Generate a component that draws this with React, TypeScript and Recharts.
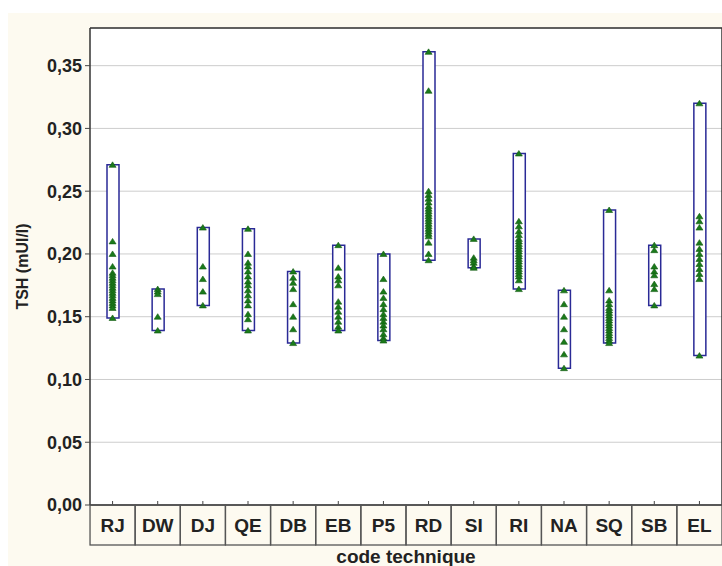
import React from 'react';
import { ComposedChart, Bar, Scatter, XAxis, YAxis, CartesianGrid } from 'recharts';

const codes = ['RJ', 'DW', 'DJ', 'QE', 'DB', 'EB', 'P5', 'RD', 'SI', 'RI', 'NA', 'SQ', 'SB', 'EL'];

const RJ = [0.271, 0.21, 0.2, 0.19, 0.185, 0.183, 0.181, 0.179, 0.177, 0.175, 0.173, 0.171, 0.169, 0.167, 0.165, 0.163, 0.161, 0.159, 0.157, 0.149];
const DW = [0.172, 0.17, 0.168, 0.15, 0.139];
const DJ = [0.221, 0.19, 0.18, 0.17, 0.159];
const QE = [0.22, 0.2, 0.193, 0.19, 0.186, 0.182, 0.178, 0.175, 0.171, 0.167, 0.163, 0.159, 0.152, 0.148, 0.139];
const DB = [0.186, 0.181, 0.177, 0.172, 0.16, 0.15, 0.14, 0.129];
const EB = [0.207, 0.189, 0.182, 0.179, 0.175, 0.162, 0.158, 0.154, 0.15, 0.146, 0.142, 0.139];
const P5 = [0.2, 0.18, 0.17, 0.165, 0.16, 0.156, 0.152, 0.149, 0.146, 0.143, 0.14, 0.136, 0.133, 0.131];
const RD = [0.361, 0.33, 0.25, 0.247, 0.244, 0.241, 0.238, 0.236, 0.234, 0.232, 0.23, 0.228, 0.226, 0.224, 0.222, 0.22, 0.218, 0.216, 0.214, 0.209, 0.2, 0.195];
const SI = [0.212, 0.197, 0.195, 0.193, 0.19, 0.189];
const RI = [0.28, 0.226, 0.222, 0.218, 0.215, 0.212, 0.21, 0.208, 0.206, 0.204, 0.202, 0.2, 0.198, 0.196, 0.194, 0.192, 0.19, 0.188, 0.186, 0.184, 0.182, 0.179, 0.172];
const NA = [0.171, 0.16, 0.15, 0.14, 0.13, 0.12, 0.109];
const SQ = [0.235, 0.171, 0.163, 0.16, 0.157, 0.155, 0.153, 0.151, 0.149, 0.147, 0.145, 0.143, 0.141, 0.139, 0.137, 0.135, 0.133, 0.131, 0.129];
const SB = [0.207, 0.203, 0.19, 0.186, 0.183, 0.176, 0.172, 0.159];
const EL = [0.32, 0.23, 0.226, 0.221, 0.209, 0.204, 0.2, 0.196, 0.192, 0.188, 0.184, 0.18, 0.119];

const pointsByCode = [RJ, DW, DJ, QE, DB, EB, P5, RD, SI, RI, NA, SQ, SB, EL];
const yTicks = [0, 0.05, 0.1, 0.15, 0.2, 0.25, 0.3, 0.35];

const rangeData = codes.map((code, i) => ({
  code,
  range: [Math.min(...pointsByCode[i]), Math.max(...pointsByCode[i])],
}));
const scatterData = codes.flatMap((code, i) => pointsByCode[i].map((v) => ({ code, v })));

const CHART_W = 714;
const CHART_H = 553;
const LEFT_W = 82;
const RIGHT_W = 1;
const BAND = (CHART_W - LEFT_W - RIGHT_W) / codes.length;
const FONT = '"Liberation Sans", Arial, sans-serif';

const CategoryTick = (props: any) => {
  const { x, y, payload } = props;
  return (
    <g>
      <line x1={x} y1={y} x2={x} y2={y - 4} stroke="#444" strokeWidth={1} />
      <rect x={x - BAND / 2} y={y} width={BAND} height={40} fill="none" stroke="#555" strokeWidth={1.3} />
      <text x={x} y={y + 27} textAnchor="middle" fontSize={19} fontWeight="bold" fill="#222" fontFamily={FONT}>
        {payload.value}
      </text>
    </g>
  );
};

const Triangle = (props: any) => {
  const { cx, cy } = props;
  if (cx == null || cy == null) return null;
  return (
    <polygon
      points={`${cx - 3.5},${cy + 2.5} ${cx + 3.5},${cy + 2.5} ${cx},${cy - 3}`}
      fill="#1a7a1a"
      stroke="#125a12"
      strokeWidth={0.6}
    />
  );
};

const YTitle = (props: any) => {
  const vb = props.viewBox || {};
  const cy = (vb.y || 0) + (vb.height || 0) / 2;
  const cx = 14;
  return (
    <text
      x={cx}
      y={cy}
      transform={`rotate(-90, ${cx}, ${cy})`}
      textAnchor="middle"
      dominantBaseline="central"
      fontSize={16}
      fontWeight="bold"
      fill="#222"
      fontFamily={FONT}
    >
      TSH (mUI/l)
    </text>
  );
};

const fmt = (v: number) => v.toFixed(2).replace('.', ',');

export default function App() {
  return (
    <div style={{ position: 'absolute', left: 8, top: 13, width: CHART_W, height: CHART_H, background: '#fdfaf0' }}>
      <ComposedChart
        width={CHART_W}
        height={CHART_H}
        data={rangeData}
        margin={{ top: 15, right: 0, bottom: 0, left: 0 }}
        style={{ fontFamily: FONT }}
      >
        <CartesianGrid horizontal vertical={false} stroke="#cdcdcd" fill="#ffffff" />
        <XAxis
          dataKey="code"
          type="category"
          allowDuplicatedCategory={false}
          height={61}
          axisLine={{ stroke: '#333', strokeWidth: 1.5 }}
          tickLine={false}
          tickSize={0}
          tickMargin={0}
          interval={0}
          tick={<CategoryTick />}
          label={{ value: 'code technique', position: 'insideBottom', offset: 3, fontSize: 19, fontWeight: 'bold', fill: '#222' }}
        />
        <XAxis
          xAxisId="top"
          dataKey="code"
          type="category"
          allowDuplicatedCategory={false}
          orientation="top"
          mirror
          height={1}
          tick={false}
          tickSize={4}
          tickLine={{ stroke: '#444' }}
          axisLine={{ stroke: '#333', strokeWidth: 1.5 }}
          interval={0}
        />
        <YAxis
          type="number"
          domain={[0, 0.38]}
          ticks={yTicks}
          width={LEFT_W}
          tickFormatter={fmt}
          tickSize={5}
          tickMargin={3}
          tickLine={{ stroke: '#444' }}
          axisLine={{ stroke: '#333', strokeWidth: 1.5 }}
          tick={{ fontSize: 18, fontWeight: 'bold', fill: '#222' }}
          label={<YTitle />}
        />
        <YAxis
          yAxisId="right"
          orientation="right"
          type="number"
          domain={[0, 0.38]}
          ticks={yTicks}
          mirror
          width={RIGHT_W}
          tick={false}
          tickSize={5}
          tickLine={{ stroke: '#444' }}
          axisLine={{ stroke: '#333', strokeWidth: 1.5 }}
        />
        <Bar dataKey="range" barSize={12} fill="#ffffff" stroke="#2a2a96" strokeWidth={1.5} isAnimationActive={false} />
        <Scatter data={scatterData} dataKey="v" shape={<Triangle />} isAnimationActive={false} />
      </ComposedChart>
    </div>
  );
}
